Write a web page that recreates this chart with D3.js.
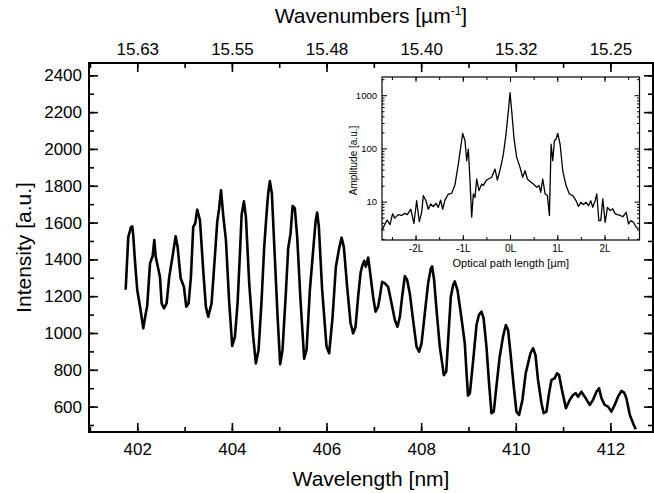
<!DOCTYPE html>
<html>
<head>
<meta charset="UTF-8">
<script src="https://d3js.org/d3.v7.min.js"></script>
<style>
  body { margin: 0; background: #fff; }
  svg { display: block; font-family: "Liberation Sans", Arial, sans-serif; }
  .tick line { stroke: #000; }
</style>
</head>
<body>
<svg width="654" height="493"></svg>
<script>
// main spectrum
const wavelength = [401.755,401.81,401.846,401.865,401.88,401.895,401.915,401.95,402.0,402.07,402.127,402.18,402.21,402.27,402.325,402.36,402.39,402.48,402.515,402.564,402.62,402.676,402.75,402.81,402.853,402.917,402.986,403.035,403.085,403.134,403.183,403.225,403.267,403.325,403.394,403.45,403.5,403.57,403.64,403.69,403.73,403.77,403.82,403.874,403.94,404.007,404.064,404.12,404.17,404.205,404.254,404.296,404.366,404.45,404.507,404.564,404.628,404.683,404.733,404.767,404.803,404.845,404.91,404.966,405.02,405.07,405.14,405.19,405.24,405.283,405.33,405.38,405.45,405.527,405.578,405.648,405.718,405.768,405.802,405.838,405.908,406.0,406.056,406.128,406.197,406.267,406.318,406.366,406.436,406.508,406.563,406.614,406.668,406.72,406.75,406.795,406.83,406.88,406.915,406.985,407.036,407.09,407.127,407.175,407.232,407.302,407.374,407.444,407.5,407.55,407.598,407.655,407.704,407.76,407.83,407.902,407.957,408.008,408.077,408.147,408.204,408.232,408.274,408.325,408.394,408.48,408.53,408.57,408.627,408.675,408.71,408.768,408.838,408.922,408.96,408.99,409.03,409.1,409.17,409.22,409.275,409.32,409.38,409.435,409.486,409.535,409.59,409.66,409.73,409.79,409.837,409.888,409.957,410.014,410.07,410.14,410.21,410.26,410.31,410.365,410.416,410.47,410.543,410.59,410.648,410.703,410.754,410.823,410.872,410.914,410.975,411.06,411.14,411.21,411.267,411.316,411.387,411.457,411.562,411.632,411.704,411.76,411.81,411.88,411.95,412.02,412.09,412.16,412.233,412.29,412.338,412.41,412.478,412.535];
const intensity = [1235,1522,1555,1575,1563,1580,1530,1396,1233,1125,1025,1107,1146,1378,1418,1505,1414,1305,1161,1134,1161,1305,1423,1525,1468,1297,1251,1143,1161,1305,1577,1595,1670,1613,1342,1143,1088,1161,1414,1604,1677,1775,1631,1505,1179,930,980,1161,1432,1640,1715,1631,1270,980,835,908,1179,1468,1649,1758,1825,1758,1396,1088,830,908,1215,1460,1541,1690,1677,1522,1179,860,908,1233,1450,1604,1655,1577,1233,926,890,1088,1360,1460,1518,1468,1251,1053,998,1034,1197,1327,1360,1392,1360,1410,1342,1197,1116,1143,1197,1278,1270,1251,1161,1070,1034,1088,1197,1309,1288,1215,1070,926,898,944,1107,1270,1351,1362,1288,1125,926,771,790,960,1197,1260,1280,1233,1107,944,780,660,673,853,1043,1098,1116,1080,926,727,564,573,709,871,980,1043,1016,890,709,573,555,636,781,835,890,917,881,745,618,564,573,673,745,754,781,772,691,591,636,663,673,654,681,654,609,636,681,700,646,609,600,573,609,654,685,676,646,555,510,477];

// top axis labels (wavenumbers) at the even wavelengths
const majorWavelengths = [402, 404, 406, 408, 410, 412];
const wavenumberLabels = ["15.63", "15.55", "15.48", "15.40", "15.32", "15.25"];
const intensityTicks = [600, 800, 1000, 1200, 1400, 1600, 1800, 2000, 2200, 2400];

// inset: Fourier amplitude vs optical path length (units of L)
const opd = [-2.705,-2.648,-2.6,-2.54,-2.486,-2.44,-2.366,-2.295,-2.225,-2.175,-2.1,-2.034,-1.977,-1.92,-1.87,-1.836,-1.78,-1.73,-1.68,-1.624,-1.568,-1.518,-1.469,-1.427,-1.377,-1.306,-1.236,-1.165,-1.095,-1.045,-1.003,-0.953,-0.918,-0.883,-0.847,-0.812,-0.777,-0.742,-0.706,-0.657,-0.6,-0.565,-0.508,-0.459,-0.388,-0.318,-0.268,-0.198,-0.141,-0.085,-0.035,0,0.035,0.085,0.141,0.212,0.268,0.318,0.367,0.424,0.494,0.565,0.614,0.65,0.692,0.742,0.791,0.833,0.869,0.904,0.939,0.975,1.01,1.059,1.116,1.186,1.257,1.328,1.398,1.448,1.497,1.554,1.61,1.66,1.709,1.751,1.8,1.836,1.879,1.92,1.963,2.013,2.062,2.119,2.175,2.225,2.274,2.33,2.387,2.458,2.507,2.556,2.613,2.669,2.719];
const amplitude = [2.9,3.8,4.5,3.7,5.9,4.9,5.7,5.5,6.0,5.7,7.2,3.9,10.4,4.2,6.3,13,10.4,7.2,9.0,8.1,9.3,7.8,10.7,7.2,10.7,13.9,14.3,20.8,50.8,104,191,139,58.7,97,24.8,5.1,13.9,12,26.6,16.1,21.4,20,24.8,26.6,28.6,41,25.5,44,78,186,508,1120,508,150,68,44,28.6,38,26.6,24,21.4,18.6,20,15,26.6,13.9,13,5.5,120,58.7,139,150,191,120,38,20,13.9,13,10.4,8.1,9.7,8.8,9.7,8.4,10.4,7.8,10.4,13.9,4.4,4.4,11.2,4.1,7.8,6.8,7.3,5.9,5.7,5.5,5.2,6.3,3.8,4.4,4.1,3.3,3.1];
const opdTicks = [-2, -1, 0, 1, 2];
const opdLabels = ["-2L", "-1L", "0L", "1L", "2L"];
const ampTicks = [10, 100, 1000];

const svg = d3.select("svg");
const mLeft = 89, mRight = 653, mTop = 63, mBottom = 432;

const x = d3.scaleLinear().domain([400.98, 412.9]).range([mLeft, mRight]);
const y = d3.scaleLinear().domain([462, 2467]).range([mBottom, mTop]);

// minor ticks
const minorX = d3.range(401, 413, 1);
const minorY = d3.range(500, 2500, 100);

svg.append("g").attr("transform", `translate(0,${mBottom})`)
    .call(d3.axisBottom(x).tickValues(minorX).tickSize(-5).tickFormat(""))
    .call(g => g.select(".domain").remove());
svg.append("g").attr("transform", `translate(0,${mBottom})`)
    .call(d3.axisBottom(x).tickValues(majorWavelengths).tickSize(-9).tickPadding(11).tickFormat(d3.format("d")))
    .call(g => g.select(".domain").remove())
    .call(g => g.selectAll("text").attr("font-size", 17).attr("fill", "#000"));

svg.append("g").attr("transform", `translate(0,${mTop})`)
    .call(d3.axisTop(x).tickValues(minorX).tickSize(-5).tickFormat(""))
    .call(g => g.select(".domain").remove());
svg.append("g").attr("transform", `translate(0,${mTop})`)
    .call(d3.axisTop(x).tickValues(majorWavelengths).tickSize(-9).tickPadding(8)
        .tickFormat((d, i) => wavenumberLabels[i]))
    .call(g => g.select(".domain").remove())
    .call(g => g.selectAll("text").attr("font-size", 17).attr("fill", "#000"));

svg.append("g").attr("transform", `translate(${mLeft},0)`)
    .call(d3.axisLeft(y).tickValues(minorY).tickSize(-5).tickFormat(""))
    .call(g => g.select(".domain").remove());
svg.append("g").attr("transform", `translate(${mLeft},0)`)
    .call(d3.axisLeft(y).tickValues(intensityTicks).tickSize(-9).tickPadding(7).tickFormat(d3.format("d")))
    .call(g => g.select(".domain").remove())
    .call(g => g.selectAll("text").attr("font-size", 17).attr("fill", "#000"));

svg.append("g").attr("transform", `translate(${mRight},0)`)
    .call(d3.axisRight(y).tickValues(minorY).tickSize(-5).tickFormat(""))
    .call(g => g.select(".domain").remove());
svg.append("g").attr("transform", `translate(${mRight},0)`)
    .call(d3.axisRight(y).tickValues(intensityTicks).tickSize(-9).tickFormat(""))
    .call(g => g.select(".domain").remove());

svg.selectAll(".tick line").attr("stroke-width", 1.6);

svg.append("rect")
    .attr("x", mLeft).attr("y", mTop)
    .attr("width", mRight - mLeft).attr("height", mBottom - mTop)
    .attr("fill", "none").attr("stroke", "#000").attr("stroke-width", 2);

// spectrum line
const line = d3.line().x(d => x(d[0])).y(d => y(d[1]));
svg.append("path")
    .datum(wavelength.map((w, i) => [w, intensity[i]]))
    .attr("d", line)
    .attr("fill", "none").attr("stroke", "#000")
    .attr("stroke-width", 2.6).attr("stroke-linejoin", "round");

// axis titles
const title1 = svg.append("text")
    .attr("x", (mLeft + mRight) / 2).attr("y", 23)
    .attr("text-anchor", "middle").attr("font-size", 21);
title1.append("tspan").text("Wavenumbers [\u00b5m");
title1.append("tspan").attr("dy", -8).attr("font-size", 12).text("-1");
title1.append("tspan").attr("dy", 8).text("]");

svg.append("text")
    .attr("x", (mLeft + mRight) / 2).attr("y", 486)
    .attr("text-anchor", "middle").attr("font-size", 21)
    .text("Wavelength [nm]");

svg.append("text")
    .attr("transform", `translate(31,${(mTop + mBottom) / 2}) rotate(-90)`)
    .attr("text-anchor", "middle").attr("font-size", 21)
    .text("Intensity [a.u.]");

// ---- inset ----
const il = 382, ir = 639.5, it = 77, ib = 240;
const ix = d3.scaleLinear().domain([-2.71, 2.74]).range([il, ir]);
const iy = d3.scaleLog().domain([1.9, 2200]).range([ib, it]);

svg.append("rect")
    .attr("x", il).attr("y", it).attr("width", ir - il).attr("height", ib - it)
    .attr("fill", "#fff");

const ins = svg.append("g").attr("font-size", 10);
const halfL = d3.range(-2.5, 2.6, 0.5);
const logMinor = [2,3,4,5,6,7,8,9,20,30,40,50,60,70,80,90,200,300,400,500,600,700,800,900,2000];

ins.append("g").attr("transform", `translate(0,${ib})`)
    .call(d3.axisBottom(ix).tickValues(halfL).tickSize(-3).tickFormat(""))
    .call(g => g.select(".domain").remove());
ins.append("g").attr("transform", `translate(0,${ib})`)
    .call(d3.axisBottom(ix).tickValues(opdTicks).tickSize(-5).tickPadding(5)
        .tickFormat((d, i) => opdLabels[i]))
    .call(g => g.select(".domain").remove())
    .call(g => g.selectAll("text").attr("font-size", 10).attr("fill", "#000"));
ins.append("g").attr("transform", `translate(0,${it})`)
    .call(d3.axisTop(ix).tickValues(halfL).tickSize(-3).tickFormat(""))
    .call(g => g.select(".domain").remove());
ins.append("g").attr("transform", `translate(0,${it})`)
    .call(d3.axisTop(ix).tickValues(opdTicks).tickSize(-5).tickFormat(""))
    .call(g => g.select(".domain").remove());

ins.append("g").attr("transform", `translate(${il},0)`)
    .call(d3.axisLeft(iy).tickValues(logMinor).tickSize(-2.5).tickFormat(""))
    .call(g => g.select(".domain").remove());
ins.append("g").attr("transform", `translate(${il},0)`)
    .call(d3.axisLeft(iy).tickValues(ampTicks).tickSize(-5).tickPadding(5).tickFormat(d3.format("d")))
    .call(g => g.select(".domain").remove())
    .call(g => g.selectAll("text").attr("font-size", 9.5).attr("fill", "#000"));
ins.append("g").attr("transform", `translate(${ir},0)`)
    .call(d3.axisRight(iy).tickValues(logMinor).tickSize(-2.5).tickFormat(""))
    .call(g => g.select(".domain").remove());
ins.append("g").attr("transform", `translate(${ir},0)`)
    .call(d3.axisRight(iy).tickValues(ampTicks).tickSize(-5).tickFormat(""))
    .call(g => g.select(".domain").remove());

ins.selectAll(".tick line").attr("stroke-width", 1);

ins.append("rect")
    .attr("x", il).attr("y", it).attr("width", ir - il).attr("height", ib - it)
    .attr("fill", "none").attr("stroke", "#000").attr("stroke-width", 1.2);

ins.append("path")
    .datum(opd.map((o, i) => [o, amplitude[i]]))
    .attr("d", d3.line().x(d => ix(d[0])).y(d => iy(d[1])))
    .attr("fill", "none").attr("stroke", "#000").attr("stroke-width", 1.3)
    .attr("stroke-linejoin", "round");

ins.append("text")
    .attr("x", (il + ir) / 2).attr("y", 267)
    .attr("text-anchor", "middle").attr("font-size", 11)
    .text("Optical path length [\u00b5m]");

ins.append("text")
    .attr("transform", `translate(357,${(it + ib) / 2 + 2}) rotate(-90)`)
    .attr("text-anchor", "middle").attr("font-size", 10)
    .text("Amplitude [a.u.]");
</script>
</body>
</html>
